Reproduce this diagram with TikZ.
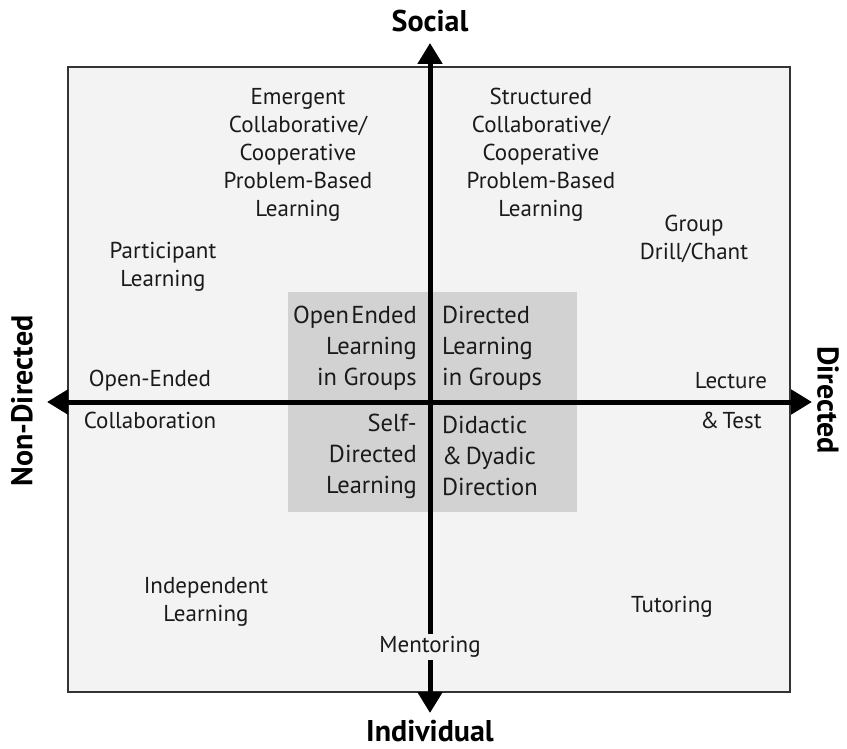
\documentclass[tikz,border=0pt]{standalone}
\usepackage{fontspec}
\setmainfont{PT Sans}
\usetikzlibrary{arrows.meta}
\definecolor{outerfill}{HTML}{F3F3F3}
\definecolor{innerfill}{HTML}{D2D2D2}
\definecolor{boxline}{HTML}{333333}
\definecolor{txt}{HTML}{1A1A1A}
\tikzset{
  lbl/.style={align=center, inner sep=0pt, text=txt, font=\fontsize{23}{28}\selectfont},
  inlbl/.style={inner sep=0pt, text=txt, font=\fontsize{24.5}{31}\selectfont},
  axislbl/.style={inner sep=0pt, font=\fontsize{30}{34}\selectfont\bfseries},
  axis/.style={line width=5pt, -{Triangle[length=21pt,width=24pt]}},
}
\begin{document}
\begin{tikzpicture}[x=1pt,y=-1pt]
\useasboundingbox (0,0) rectangle (847,749);
\fill[white] (0,0) rectangle (847,749);
\draw[boxline, line width=1.2pt, fill=outerfill] (68,67) rectangle (790,692);
\fill[innerfill] (288,292) rectangle (577,512);
\coordinate (c) at (430,402);
\coordinate (top) at (430,43);
\coordinate (bot) at (430,713);
\coordinate (lft) at (47,402);
\coordinate (rgt) at (812,402);
\draw[axis] (c) -- (top);
\draw[axis] (c) -- (bot);
\draw[axis] (c) -- (lft);
\draw[axis] (c) -- (rgt);
\node[axislbl] (social) at (430,21) {Social};
\node[axislbl] (indiv) at (430,731) {Individual};
\node[axislbl, rotate=90] (nondir) at (22,401) {Non-Directed};
\node[axislbl, rotate=-90] (dir) at (828,400) {Directed};
\node[lbl] (emer) at (298,155) {Emergent\\Collaborative/\\Cooperative\\Problem-Based\\Learning};
\node[lbl] (struc) at (541,155) {Structured\\Collaborative/\\Cooperative\\Problem-Based\\Learning};
\node[lbl] (group) at (694,239) {Group\\Drill/Chant};
\node[lbl] (part) at (163,267) {Participant\\Learning};
\node[lbl] (open) at (150,381) {Open-Ended};
\node[lbl] (coll) at (150,420) {Collaboration};
\node[lbl] (lect) at (731,381) {Lecture};
\node[lbl] (test) at (731,420) {\&\hspace{0.15em}Test};
\node[lbl] (indep) at (206,602) {Independent\\Learning};
\node[lbl] (tutor) at (672,607) {Tutoring};
\node[lbl, fill=outerfill, inner sep=2pt] (mentor) at (430,647) {Mentoring};
\node[inlbl, align=right, anchor=east] (oelg) at (417,348) {Open\hspace{0.1em}Ended\\Learning\\in Groups};
\node[inlbl, align=left, anchor=west] (dlg) at (442,348) {Directed\\Learning\\in Groups};
\node[inlbl, align=right, anchor=east] (sdl) at (417,456) {Self-\\Directed\\Learning};
\node[inlbl, align=left, anchor=west] (ddd) at (442,456) {Didactic\\\&\hspace{0.15em}Dyadic\\Direction};
\end{tikzpicture}
\end{document}
